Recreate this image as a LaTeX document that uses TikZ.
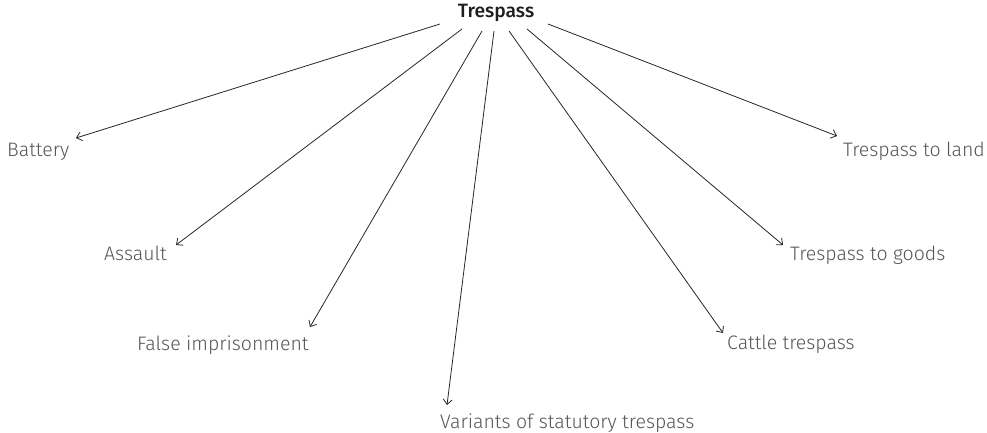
\documentclass[tikz,border=0pt]{standalone}
\usepackage{fontspec}
\setmainfont{Fira Sans Light}
\newfontfamily\headfont{Fira Sans Medium}
\usetikzlibrary{arrows.meta,calc}
\definecolor{labgray}{HTML}{555555}
\definecolor{headcol}{HTML}{1E1E1E}
\tikzset{
  lab/.style={inner sep=0pt, anchor=base west, text=labgray, font=\fontsize{19.5}{21}\selectfont},
  head/.style={inner sep=0pt, anchor=base, text=headcol, font=\headfont\fontsize{19.3}{21}\selectfont},
  arr/.style={draw=black!85, line width=0.8pt, -{Straight Barb[length=5pt,width=9pt]}}
}
\begin{document}
\begin{tikzpicture}[x=1pt,y=-1pt]
\useasboundingbox (0,0) rectangle (987,433);
\node[head] (t) at (496,18) {Trespass};
\node[lab] (bat) at (7,156) {Battery};
\node[lab] (ass) at (104,260) {Assault};
\node[lab] (fi) at (137,350) {False imprisonment};
\node[lab] (var) at (440,428) {Variants of statutory trespass};
\node[lab] (cat) at (727,349) {Cattle trespass};
\node[lab] (goo) at (790,260) {Trespass to goods};
\node[lab] (lan) at (843,156) {Trespass to land};
\draw[arr] ($(t.base)+(-56,6)$) -- ($(bat.base west)+(69,-18)$);
\draw[arr] ($(t.base)+(-34,11)$) -- ($(ass.base west)+(72,-15)$);
\draw[arr] ($(t.base)+(-14,13)$) -- ($(fi.base west)+(173,-23)$);
\draw[arr] ($(t.base)+(-2,13)$) -- ($(var.base west)+(7,-23)$);
\draw[arr] ($(t.base)+(13,13)$) -- ($(cat.base west)+(-4,-16)$);
\draw[arr] ($(t.base)+(31,11)$) -- ($(goo.base west)+(-7,-15)$);
\draw[arr] ($(t.base)+(52,6)$) -- ($(lan.base west)+(-6,-20)$);
\end{tikzpicture}
\end{document}
